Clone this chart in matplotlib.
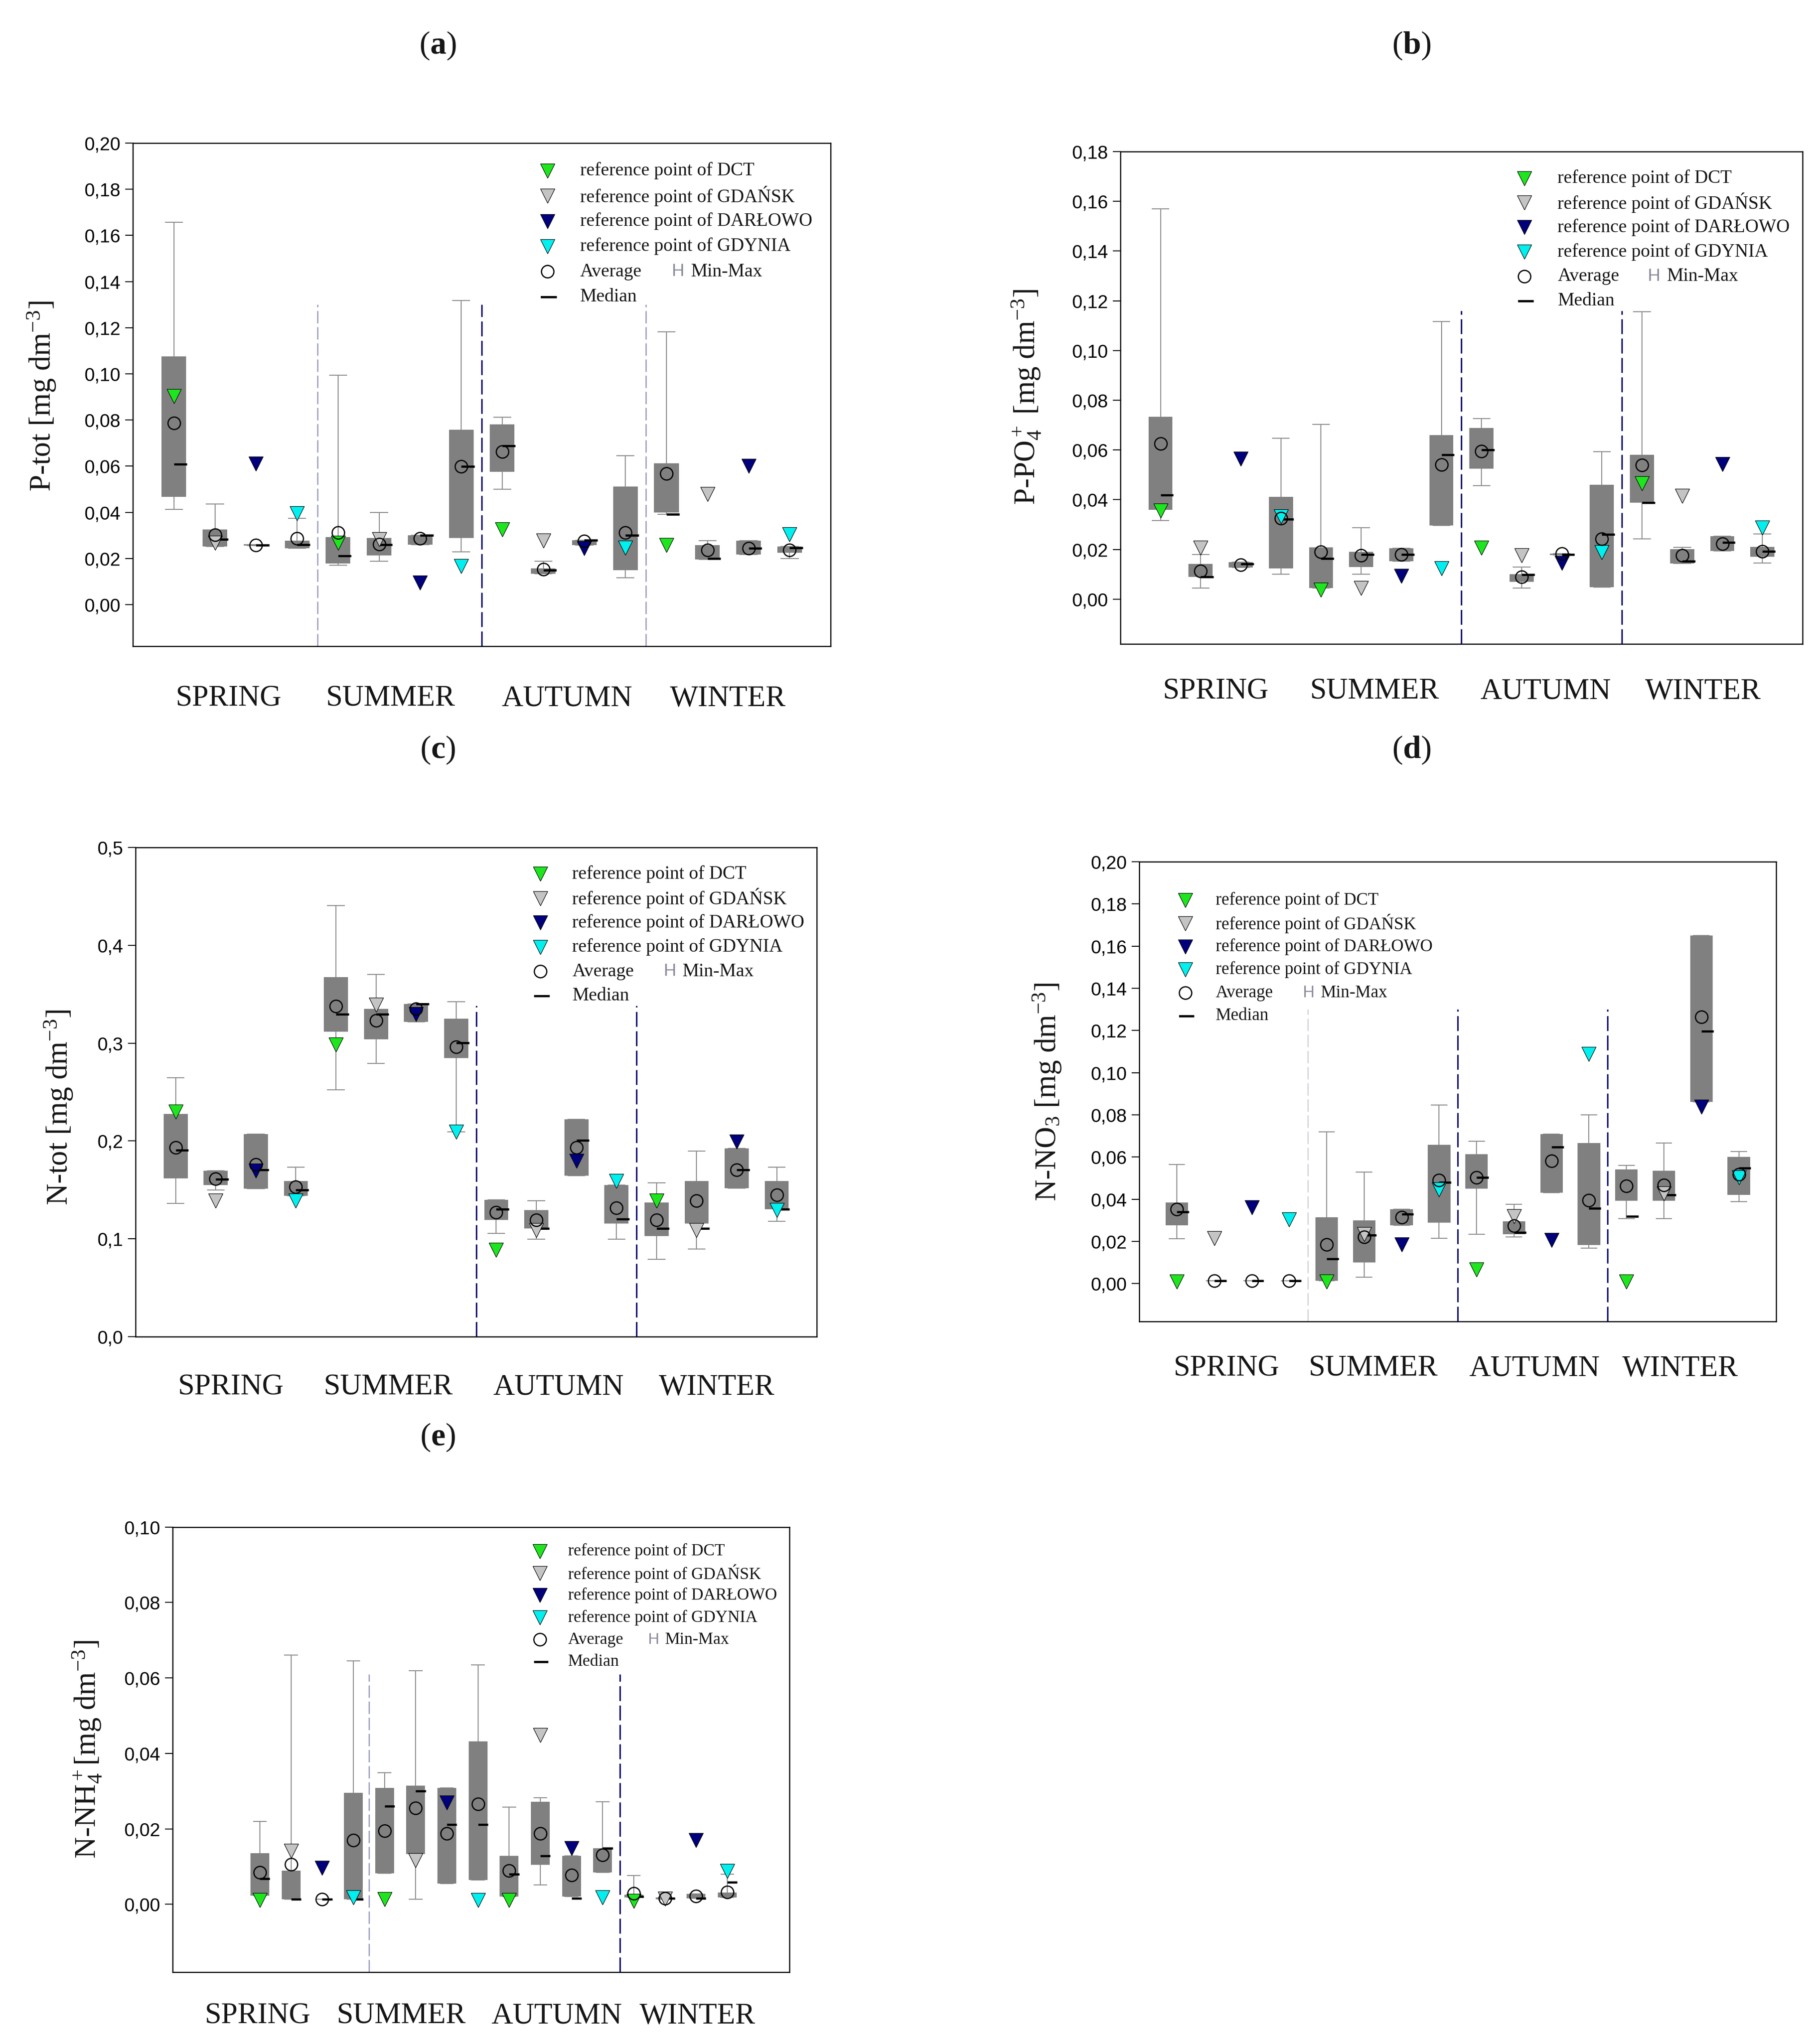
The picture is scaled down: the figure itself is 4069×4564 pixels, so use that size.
import numpy as np
import matplotlib.pyplot as plt
from matplotlib.ticker import FuncFormatter, MultipleLocator

plt.rcParams['font.family'] = ['Liberation Serif', 'DejaVu Serif']
plt.rcParams['mathtext.fontset'] = 'custom'
plt.rcParams['mathtext.rm'] = 'Liberation Serif'
plt.rcParams['mathtext.it'] = 'Liberation Serif:italic'
plt.rcParams['mathtext.bf'] = 'Liberation Serif:bold'

# categories
seasons = ['SPRING', 'SUMMER', 'AUTUMN', 'WINTER']
stations = ['DCT', 'GDAŃSK', 'DARŁOWO', 'GDYNIA']
positions = np.arange(1, 17)   # 4 seasons x 4 stations

# (a) P-tot
a_max  = [0.1657, 0.0437, 0.0258, 0.0375, 0.0995, 0.0400, 0.0300, 0.1317, 0.0812, 0.0188, 0.0280, 0.0645, 0.1182, 0.0278, 0.0278, 0.0253]
a_q3   = [0.1075, 0.0325, 0.0262, 0.0278, 0.0292, 0.0288, 0.0300, 0.0758, 0.0782, 0.0158, 0.0280, 0.0512, 0.0612, 0.0258, 0.0278, 0.0253]
a_med  = [0.0608, 0.0283, 0.0258, 0.0260, 0.0212, 0.0260, 0.0300, 0.0598, 0.0688, 0.0150, 0.0280, 0.0300, 0.0392, 0.0200, 0.0245, 0.0247]
a_q1   = [0.0467, 0.0253, 0.0255, 0.0245, 0.0178, 0.0213, 0.0260, 0.0288, 0.0575, 0.0133, 0.0258, 0.0150, 0.0400, 0.0195, 0.0217, 0.0225]
a_min  = [0.0412, 0.0253, 0.0255, 0.0245, 0.0170, 0.0188, 0.0260, 0.0228, 0.0500, 0.0133, 0.0258, 0.0117, 0.0392, 0.0195, 0.0217, 0.0200]
a_mean = [0.0787, 0.0303, 0.0258, 0.0287, 0.0313, 0.0262, 0.0287, 0.0598, 0.0662, 0.0153, 0.0275, 0.0312, 0.0567, 0.0237, 0.0245, 0.0237]
a_ref  = [0.0903, 0.0267, 0.0610, 0.0395, 0.0267, 0.0283, 0.0095, 0.0167, 0.0325, 0.0278, 0.0245, 0.0247, 0.0258, 0.0478, 0.0600, 0.0305]

# (b) P-PO4
b_max  = [0.1570, 0.0180, 0.0149, 0.0648, 0.0703, 0.0288, 0.0205, 0.1116, 0.0726, 0.0130, 0.0183, 0.0593, 0.1157, 0.0208, 0.0253, 0.0262]
b_q3   = [0.0733, 0.0141, 0.0149, 0.0411, 0.0208, 0.0190, 0.0205, 0.0660, 0.0689, 0.0100, 0.0183, 0.0460, 0.0580, 0.0201, 0.0253, 0.0210]
b_med  = [0.0418, 0.0089, 0.0141, 0.0321, 0.0163, 0.0180, 0.0180, 0.0580, 0.0600, 0.0098, 0.0180, 0.0261, 0.0389, 0.0153, 0.0228, 0.0193]
b_q1   = [0.0360, 0.0089, 0.0128, 0.0123, 0.0044, 0.0130, 0.0152, 0.0296, 0.0525, 0.0070, 0.0177, 0.0048, 0.0389, 0.0143, 0.0194, 0.0171]
b_min  = [0.0317, 0.0045, 0.0128, 0.0100, 0.0044, 0.0100, 0.0152, 0.0296, 0.0456, 0.0045, 0.0177, 0.0048, 0.0243, 0.0143, 0.0194, 0.0146]
b_mean = [0.0625, 0.0113, 0.0138, 0.0326, 0.0190, 0.0176, 0.0180, 0.0541, 0.0596, 0.0090, 0.0183, 0.0243, 0.0539, 0.0176, 0.0222, 0.0193]
b_ref  = [0.0355, 0.0206, 0.0565, 0.0333, 0.0038, 0.0044, 0.0093, 0.0123, 0.0206, 0.0176, 0.0146, 0.0188, 0.0465, 0.0415, 0.0543, 0.0288]

# (c) N-tot
c_max  = [0.2648, 0.1695, 0.2069, 0.1733, 0.4408, 0.3703, 0.3402, 0.3421, 0.1398, 0.1390, 0.2221, 0.1550, 0.1570, 0.1897, 0.1924, 0.1733]
c_q3   = [0.2274, 0.1695, 0.2069, 0.1592, 0.3676, 0.3352, 0.3402, 0.3250, 0.1398, 0.1295, 0.2221, 0.1550, 0.1371, 0.1592, 0.1924, 0.1592]
c_med  = [0.1905, 0.1608, 0.1703, 0.1497, 0.3295, 0.3295, 0.3402, 0.3002, 0.1303, 0.1105, 0.2008, 0.1200, 0.1105, 0.1105, 0.1703, 0.1303]
c_q1   = [0.1619, 0.1550, 0.1512, 0.1440, 0.3116, 0.3040, 0.3219, 0.2846, 0.1192, 0.1105, 0.1646, 0.1154, 0.1029, 0.1154, 0.1516, 0.1303]
c_min  = [0.1360, 0.1497, 0.1512, 0.1440, 0.2522, 0.2792, 0.3219, 0.2095, 0.1055, 0.0998, 0.1646, 0.0998, 0.0792, 0.0895, 0.1516, 0.1181]
c_mean = [0.1931, 0.1611, 0.1760, 0.1531, 0.3379, 0.3230, 0.3352, 0.2960, 0.1269, 0.1192, 0.1931, 0.1314, 0.1192, 0.1390, 0.1703, 0.1448]
c_ref  = [0.2297, 0.1390, 0.1695, 0.1390, 0.2983, 0.3390, 0.3295, 0.2095, 0.0888, 0.1086, 0.1798, 0.1592, 0.1390, 0.1086, 0.1992, 0.1295]

# (d) N-NO3
d_max  = [0.0565, 0.0014, 0.0014, 0.0014, 0.0720, 0.0529, 0.0353, 0.0847, 0.0674, 0.0376, 0.0709, 0.0800, 0.0561, 0.0667, 0.1650, 0.0626]
d_q3   = [0.0385, 0.0014, 0.0014, 0.0014, 0.0314, 0.0300, 0.0353, 0.0658, 0.0614, 0.0295, 0.0709, 0.0667, 0.0542, 0.0535, 0.1650, 0.0600]
d_med  = [0.0339, 0.0014, 0.0014, 0.0014, 0.0118, 0.0229, 0.0330, 0.0480, 0.0503, 0.0242, 0.0648, 0.0356, 0.0318, 0.0420, 0.1196, 0.0547]
d_q1   = [0.0277, 0.0014, 0.0014, 0.0014, 0.0014, 0.0100, 0.0277, 0.0288, 0.0450, 0.0233, 0.0432, 0.0182, 0.0392, 0.0392, 0.0861, 0.0420]
d_min  = [0.0212, 0.0014, 0.0014, 0.0014, 0.0014, 0.0030, 0.0277, 0.0215, 0.0233, 0.0221, 0.0432, 0.0168, 0.0309, 0.0309, 0.0861, 0.0388]
d_mean = [0.0353, 0.0014, 0.0014, 0.0014, 0.0185, 0.0221, 0.0314, 0.0491, 0.0503, 0.0274, 0.0582, 0.0394, 0.0462, 0.0468, 0.1265, 0.0517]
d_ref  = [0.0009, 0.0215, 0.0362, 0.0304, 0.0009, 0.0233, 0.0185, 0.0446, 0.0067, 0.0318, 0.0206, 0.1089, 0.0009, 0.0427, 0.0838, 0.0503]

# (e) N-NH4
e_max  = [0.0220, 0.0661, 0.0014, 0.0645, 0.0349, 0.0619, 0.0309, 0.0635, 0.0258, 0.0283, 0.0129, 0.0272, 0.0076, 0.0018, 0.0028, 0.0080]
e_q3   = [0.0135, 0.0089, 0.0014, 0.0295, 0.0309, 0.0315, 0.0309, 0.0432, 0.0129, 0.0272, 0.0129, 0.0149, 0.0025, 0.0018, 0.0028, 0.0031]
e_med  = [0.0068, 0.0014, 0.0014, 0.0014, 0.0260, 0.0300, 0.0211, 0.0211, 0.0080, 0.0129, 0.0016, 0.0149, 0.0020, 0.0016, 0.0016, 0.0059]
e_q1   = [0.0023, 0.0014, 0.0014, 0.0014, 0.0082, 0.0133, 0.0055, 0.0065, 0.0020, 0.0105, 0.0020, 0.0085, 0.0018, 0.0014, 0.0016, 0.0018]
e_min  = [0.0023, 0.0014, 0.0014, 0.0014, 0.0082, 0.0014, 0.0055, 0.0065, 0.0020, 0.0051, 0.0020, 0.0085, 0.0018, 0.0014, 0.0016, 0.0018]
e_mean = [0.0085, 0.0106, 0.0014, 0.0170, 0.0195, 0.0255, 0.0188, 0.0266, 0.0089, 0.0188, 0.0078, 0.0131, 0.0029, 0.0016, 0.0022, 0.0032]
e_ref  = [0.0011, 0.0142, 0.0096, 0.0018, 0.0013, 0.0117, 0.0269, 0.0011, 0.0011, 0.0449, 0.0149, 0.0018, 0.0009, 0.0015, 0.0170, 0.0088]

# styles
station_colors = ['#1ee61e', '#c4c4c4', '#00007d', '#00f0f0']
BOX = '#808080'
WHISK = '#8c8c8c'
LIGHT_DASH = '#9c9cc4'
PALE_DASH = '#d4d4dc'
NAVY_DASH = '#06066e'
DASH = (0, (10, 3))
TXT = '#161616'

fig = plt.figure(figsize=(40.69, 45.64), dpi=100)


def fmt(dec):
    return FuncFormatter(lambda v, _: ('%.*f' % (dec, v)).replace('.', ','))


def draw_panel(rect, vmax, q3, med, q1, vmin, mean, ref, ylim, xlim, step, dec,
               dashes, dash_top, season_x, season_y, legend, lfs):
    ax = fig.add_axes(rect)
    # whiskers and caps
    ax.vlines(positions, vmin, vmax, color=WHISK, lw=1.6, zorder=1)
    ax.hlines(vmax, positions - 0.22, positions + 0.22, color=WHISK, lw=1.6, zorder=1)
    ax.hlines(vmin, positions - 0.22, positions + 0.22, color=WHISK, lw=1.6, zorder=1)
    # boxes
    ax.bar(positions, np.array(q3) - np.array(q1), bottom=q1, width=0.6,
           color=BOX, zorder=2)
    # medians (short dash to the right of centre)
    ax.hlines(med, positions, positions + 0.32, color='black', lw=3.6, zorder=3)
    # reference points by station
    ref = np.array(ref)
    for k in range(4):
        ax.plot(positions[k::4], ref[k::4], 'v', ls='none', ms=23,
                mfc=station_colors[k], mec='black', mew=0.9, zorder=4)
    # averages
    ax.plot(positions, mean, 'o', ls='none', ms=20, mfc='none', mec='black',
            mew=2.0, zorder=5)
    # season separators
    for x, col in dashes:
        lw = 2.4 if col == NAVY_DASH else 2.0
        ax.vlines(x, ylim[0], dash_top, colors=col, linestyles=[DASH], lw=lw, zorder=0)

    ax.set_xlim(*xlim)
    ax.set_xticks([])
    ax.yaxis.set_major_locator(MultipleLocator(step))
    ax.yaxis.set_major_formatter(fmt(dec))
    ax.set_yticks(np.arange(0, ylim[1] + step / 2, step))
    ax.set_ylim(*ylim)
    ax.tick_params(axis='y', direction='out', length=12, width=1.6, pad=8,
                   labelsize=30, labelfontfamily='Liberation Sans')
    for s in ax.spines.values():
        s.set_linewidth(1.8)

    for x, name in zip(season_x, seasons):
        ax.text(x, season_y, name, transform=ax.get_xaxis_transform(),
                ha='center', va='center', fontsize=48, color=TXT)

    # legend drawn by hand
    x0, xt, xh, y0, dy = legend
    tr = ax.transAxes
    for k in range(4):
        ax.plot(x0, y0 - k * dy, 'v', transform=tr, ms=23, mfc=station_colors[k],
                mec='black', mew=0.9)
        ax.text(xt, y0 - k * dy, 'reference point of ' + stations[k], transform=tr,
                va='center', fontsize=lfs, color=TXT)
    ax.plot(x0, y0 - 4 * dy, 'o', transform=tr, ms=20, mfc='none', mec='black', mew=2.0)
    ax.text(xt, y0 - 4 * dy, 'Average', transform=tr, va='center', fontsize=lfs, color=TXT)
    ax.text(xh, y0 - 4 * dy, 'H', transform=tr, va='center', fontsize=lfs - 2,
            color='#8a8a9a', family='Liberation Sans')
    ax.text(xh + 0.028, y0 - 4 * dy, 'Min-Max', transform=tr, va='center',
            fontsize=lfs, color=TXT)
    ax.plot([x0 - 0.008, x0 + 0.012], [y0 - 5 * dy] * 2, transform=tr, color='black', lw=3.6)
    ax.text(xt, y0 - 5 * dy, 'Median', transform=tr, va='center', fontsize=lfs, color=TXT)
    return ax


draw_panel([0.0730, 0.6834, 0.3834, 0.2465], a_max, a_q3, a_med, a_q1, a_min, a_mean, a_ref,
           (-0.018, 0.20), (0, 17), 0.02, 2,
           [(4.5, LIGHT_DASH), (8.5, NAVY_DASH), (12.5, LIGHT_DASH)], 0.13,
           [2.33, 6.28, 10.58, 14.5], -0.104,
           (0.594, 0.641, 0.772, 0.945, 0.0501), 30)

draw_panel([0.6156, 0.6845, 0.3748, 0.2412], b_max, b_q3, b_med, b_q1, b_min, b_mean, b_ref,
           (-0.018, 0.18), (0, 17), 0.02, 2,
           [(8.5, NAVY_DASH), (12.5, NAVY_DASH)], 0.116,
           [2.37, 6.33, 10.6, 14.52], -0.096,
           (0.592, 0.641, 0.773, 0.946, 0.0498), 30)

draw_panel([0.0745, 0.3451, 0.3743, 0.2397], c_max, c_q3, c_med, c_q1, c_min, c_mean, c_ref,
           (0.0, 0.5), (0, 17), 0.1, 1,
           [(8.5, NAVY_DASH), (12.5, NAVY_DASH)], 0.338,
           [2.37, 6.3, 10.55, 14.5], -0.103,
           (0.594, 0.641, 0.775, 0.946, 0.0499), 30)

draw_panel([0.6260, 0.3525, 0.3500, 0.2253], d_max, d_q3, d_med, d_q1, d_min, d_mean, d_ref,
           (-0.018, 0.20), (0, 17), 0.02, 2,
           [(4.5, PALE_DASH), (8.5, NAVY_DASH), (12.5, NAVY_DASH)], 0.13,
           [2.32, 6.24, 10.54, 14.43], -0.102,
           (0.072, 0.120, 0.257, 0.916, 0.0503), 28)

draw_panel([0.0949, 0.0337, 0.3389, 0.2181], e_max, e_q3, e_med, e_q1, e_min, e_mean, e_ref,
           (-0.018, 0.10), (-1.8, 18), 0.02, 2,
           [(4.5, LIGHT_DASH), (12.55, NAVY_DASH)], 0.061,
           [0.93, 5.53, 10.53, 15.04], -0.098,
           (0.595, 0.641, 0.770, 0.946, 0.0497), 27)

# y-axis titles
ylabels = [(0.0229, 0.8059, r'P-tot [mg dm$^{-3}$]'),
           (0.5640, 0.8055, r'P-PO$_4^+$ [mg dm$^{-3}$]'),
           (0.0322, 0.4575, r'N-tot [mg dm$^{-3}$]'),
           (0.5755, 0.4650, r'N-NO$_3$ [mg dm$^{-3}$]'),
           (0.0479, 0.1429, r'N-NH$_4^+$[mg dm$^{-3}$]')]
for x, y, s in ylabels:
    fig.text(x, y, s, rotation=90, ha='center', va='center', fontsize=48, color=TXT)

# panel letters
letters = [(0.2406, 0.9777, 'a'), (0.7756, 0.9777, 'b'), (0.2406, 0.6326, 'c'),
           (0.7756, 0.6326, 'd'), (0.2406, 0.2958, 'e')]
for x, y, s in letters:
    fig.text(x, y, r'($\mathbf{' + s + '}$)', ha='center', va='center', fontsize=52, color=TXT)

fig.savefig('out.png', dpi=100)
